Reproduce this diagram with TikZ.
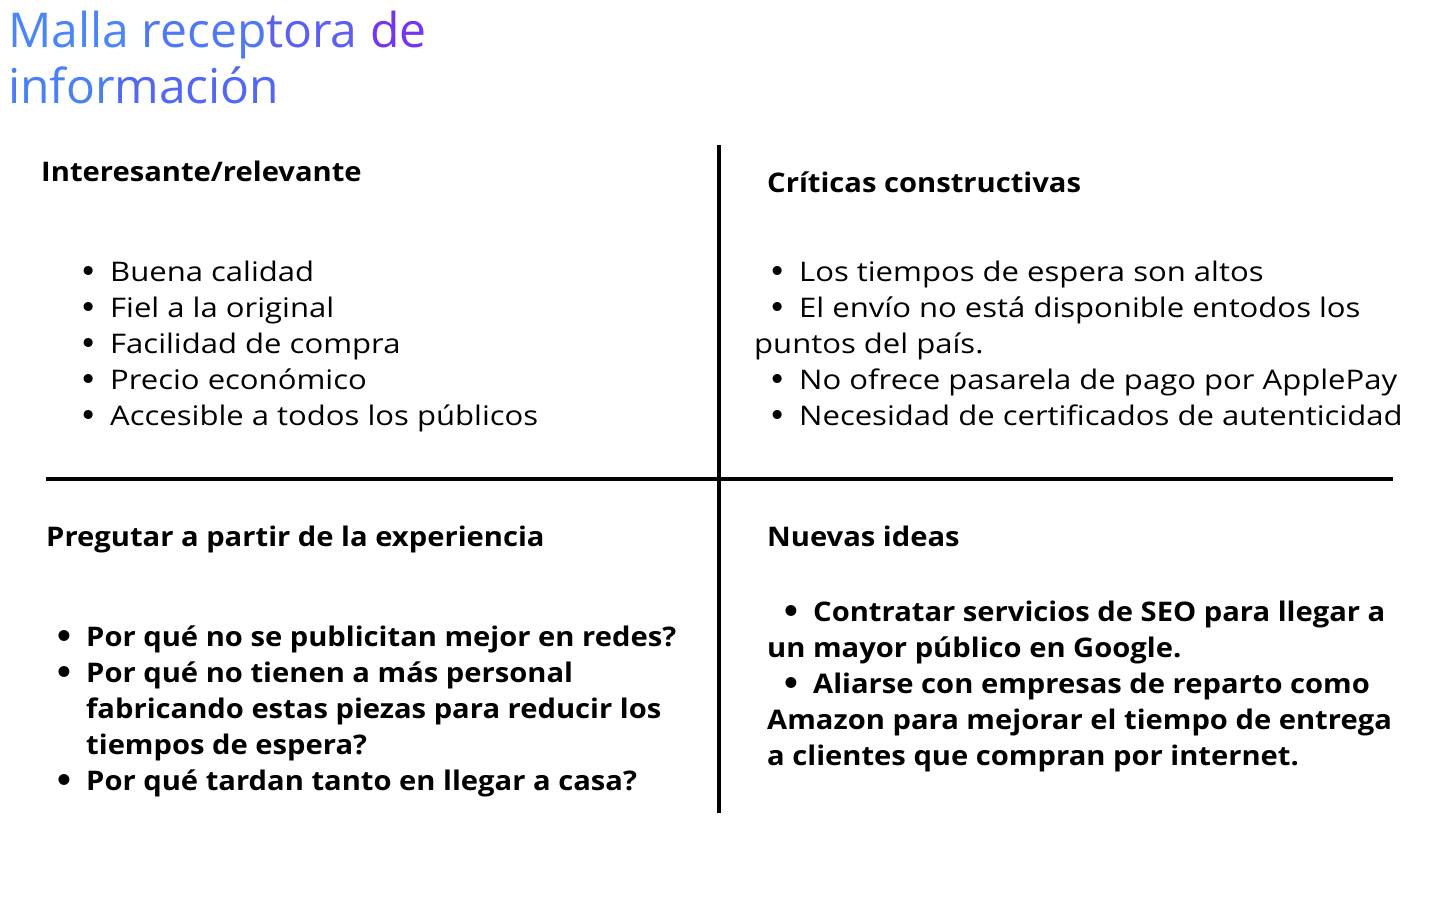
\documentclass[tikz,border=0pt]{standalone}
\usepackage{fontspec}
\setmainfont{Open Sans}
\newfontfamily\regfont[FakeStretch=1.15]{Open Sans}
\newfontfamily\boldfont[FakeStretch=1.08]{Open Sans}
\newfontfamily\bulfont{DejaVu Sans}
\definecolor{tblue}{HTML}{4A86F7}
\definecolor{tmidA}{HTML}{4F78F5}
\definecolor{tmidB}{HTML}{5C60F2}
\definecolor{tpurp}{HTML}{7434F0}
\definecolor{tblue2}{HTML}{4B80F5}
\definecolor{tmid2}{HTML}{5368F2}
\newcommand{\bul}{\llap{\raisebox{-1pt}{\bulfont\fontsize{31}{36}\selectfont •}\hspace{12pt}}}
\begin{document}
\begin{tikzpicture}[x=1pt,y=-1pt,
		title/.style={anchor=base west, inner sep=0pt, font=\fontsize{48}{56}\selectfont},
		head/.style={anchor=base west, inner sep=0pt, font=\boldfont\fontsize{27}{36}\selectfont\bfseries},
		item/.style={anchor=base west, inner sep=0pt, font=\regfont\fontsize{27}{36}\selectfont},
		bitem/.style={anchor=base west, inner sep=0pt, font=\boldfont\fontsize{27}{36}\selectfont\bfseries},
		divider/.style={line width=4pt}]
		\useasboundingbox (0,0) rectangle (1440,900);
		
		% title
		\node[title] (title1) at (8,47) {\textcolor{tblue}{Malla} \textcolor{tmidA}{recep}\textcolor{tmidB}{tora} \textcolor{tpurp}{de}};
		\node[title] (title2) at (8,103) {\textcolor{tblue2}{infor}\textcolor{tmid2}{mación}};
		
		% dividers
		\coordinate (vtop) at (719,145);
		\coordinate (vbot) at (719,813);
		\coordinate (hleft) at (46,479);
		\coordinate (hright) at (1393,479);
		\draw[divider] (vtop) -- (vbot);
		\draw[divider] (hleft) -- (hright);
		
		% Interesante/relevante
		\node[head] (q1) at (41,181) {Interesante/relevante};
		\node[item] (q1a) at (110,281) {\bul Buena calidad};
		\node[item] (q1b) at (110,317) {\bul Fiel a la original};
		\node[item] (q1c) at (110,353) {\bul Facilidad de compra};
		\node[item] (q1d) at (110,389) {\bul Precio económico};
		\node[item] (q1e) at (110,425) {\bul Accesible a todos los públicos};
		
		% Criticas constructivas
		\node[head] (q2) at (767,192) {Críticas constructivas};
		\node[item] (q2a) at (799,281) {\bul Los tiempos de espera son altos};
		\node[item] (q2b) at (799,317) {\bul El envío no está disponible entodos los};
		\node[item] (q2c) at (754,353) {puntos del país.};
		\node[item] (q2d) at (799,389) {\bul No ofrece pasarela de pago por ApplePay};
		\node[item] (q2e) at (799,425) {\bul Necesidad de certificados de autenticidad};
		
		% Pregutar a partir de la experiencia
		\node[head] (q3) at (46,546) {Pregutar a partir de la experiencia};
		\node[bitem] (q3a) at (86,646) {\bul Por qué no se publicitan mejor en redes?};
		\node[bitem] (q3b) at (86,682) {\bul Por qué no tienen a más personal};
		\node[bitem] (q3c) at (86,718) {fabricando estas piezas para reducir los};
		\node[bitem] (q3d) at (86,754) {tiempos de espera?};
		\node[bitem] (q3e) at (86,790) {\bul Por qué tardan tanto en llegar a casa?};
		
		% Nuevas ideas
		\node[head] (q4) at (767,546) {Nuevas ideas};
		\node[bitem] (q4a) at (813,621) {\bul Contratar servicios de SEO para llegar a};
		\node[bitem] (q4b) at (767,657) {un mayor público en Google.};
		\node[bitem] (q4c) at (813,693) {\bul Aliarse con empresas de reparto como};
		\node[bitem] (q4d) at (767,729) {Amazon para mejorar el tiempo de entrega};
		\node[bitem] (q4e) at (767,765) {a clientes que compran por internet.};
	\end{tikzpicture}
\end{document}
